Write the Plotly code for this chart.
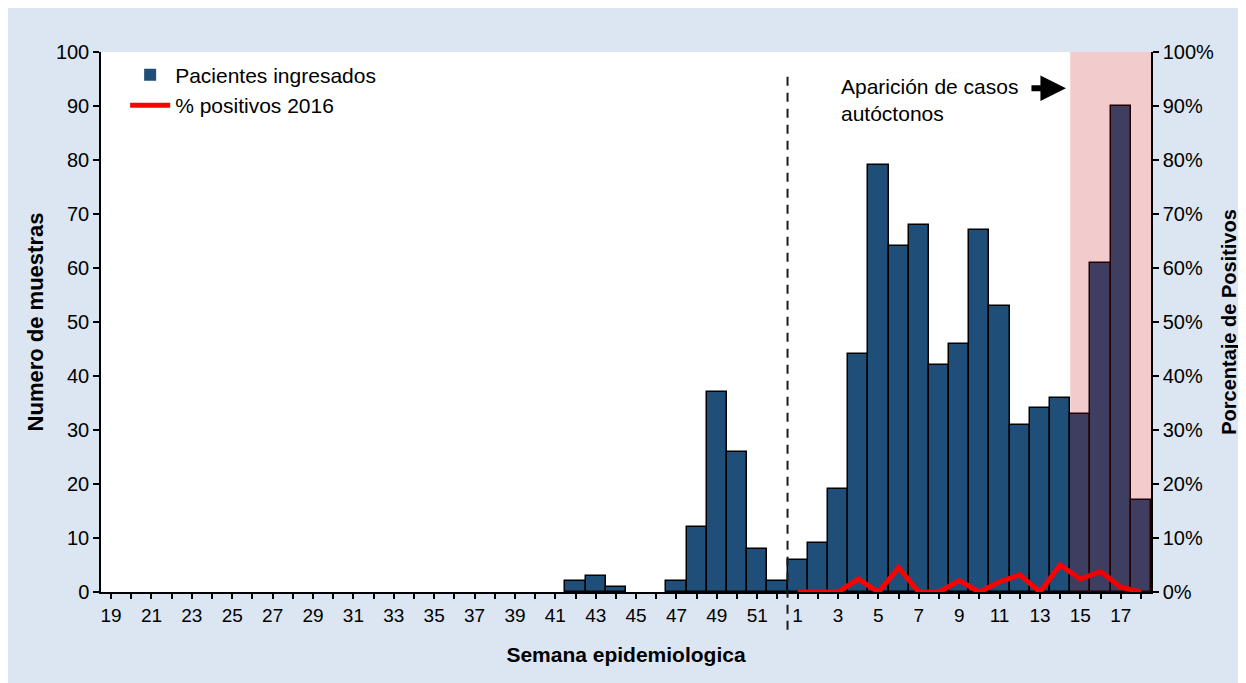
import plotly.graph_objects as go

# ---- data ----
semanas = ["19", "20", "21", "22", "23", "24", "25", "26", "27", "28", "29", "30",
           "31", "32", "33", "34", "35", "36", "37", "38", "39", "40", "41", "42",
           "43", "44", "45", "46", "47", "48", "49", "50", "51", "52",
           "1", "2", "3", "4", "5", "6", "7", "8", "9", "10", "11", "12", "13",
           "14", "15", "16", "17", "18"]
pacientes = [0, 0, 0, 0, 0, 0, 0, 0, 0, 0, 0, 0,
             0, 0, 0, 0, 0, 0, 0, 0, 0, 0, 0, 2,
             3, 1, 0, 0, 2, 12, 37, 26, 8, 2,
             6, 9, 19, 44, 79, 64, 68, 42, 46, 67, 53, 31, 34,
             36, 33, 61, 90, 17]
semanas_2016 = ["1", "2", "3", "4", "5", "6", "7", "8", "9", "10", "11", "12",
                "13", "14", "15", "16", "17", "18"]
positivos_2016 = [0.0, 0.0, 0.0, 0.024, 0.0, 0.045, 0.0, 0.0, 0.021, 0.0, 0.019,
                  0.032, 0.0, 0.050, 0.024, 0.038, 0.009, 0.0]
tick_labels = ["19", "21", "23", "25", "27", "29", "31", "33", "35", "37", "39", "41",
               "43", "45", "47", "49", "51", "1", "3", "5", "7", "9", "11", "13",
               "15", "17"]

# positions on the category axis
x_all = list(range(len(semanas)))
start_2016 = len(semanas) - len(semanas_2016)
x_2016 = [start_2016 + i for i in range(len(semanas_2016))]
ticktext = [s if s in tick_labels else "" for s in semanas]
outline_w = [1.5 if v > 0 else 0 for v in pacientes]

FONT = "Arial, Liberation Sans, sans-serif"
BG = "#dce6f2"

fig = go.Figure()
fig.add_trace(go.Bar(
    x=x_all, y=pacientes, name="Pacientes ingresados",
    marker=dict(color="#1f4e79", line=dict(color="#000000", width=outline_w)),
    width=1.0,
))
fig.add_trace(go.Scatter(
    x=x_2016, y=positivos_2016, name="% positivos 2016", yaxis="y2",
    mode="lines", line=dict(color="#ff0000", width=5),
))

# shaded region: weeks 15-18 of 2016
fig.add_shape(type="rect", xref="x", yref="paper",
              x0=semanas.index("15", start_2016) - 0.5, x1=len(semanas) - 0.5,
              y0=0, y1=1, fillcolor="rgba(192,0,0,0.2)", line=dict(width=0),
              layer="above")
# dashed separator between years
sep = (start_2016 - 0.5 + 0.5) / len(semanas)
fig.add_shape(type="line", xref="paper", yref="paper",
              x0=sep, x1=sep, y0=-0.07, y1=0.967,
              line=dict(color="#1a1a1a", width=2, dash="9px,7px"))

fig.add_annotation(xref="paper", yref="paper", x=0.703, y=0.962,
                   xanchor="left", yanchor="top", align="left",
                   text="Aparición de casos<br>autóctonos", showarrow=False,
                   font=dict(family=FONT, size=21, color="#000000"))
fig.add_annotation(xref="paper", yref="paper", x=0.919, y=0.933,
                   ax=-36, ay=0, text="", showarrow=True,
                   arrowhead=2, arrowsize=0.85, arrowwidth=6, arrowcolor="#000000")

fig.update_layout(
    width=1238, height=675,
    margin=dict(l=93, r=95, t=44, b=91),
    paper_bgcolor=BG, plot_bgcolor="#ffffff",
    font=dict(family=FONT, size=19, color="#000000"),
    bargap=0,
    showlegend=True,
    legend=dict(x=0.023, y=0.995, xanchor="left", yanchor="top",
                bgcolor="rgba(0,0,0,0)", font=dict(size=21),
                itemwidth=40, tracegroupgap=0),
    xaxis=dict(
        automargin=False,
        range=[-0.5, len(semanas) - 0.5],
        tickmode="array", tickvals=x_all, ticktext=ticktext,
        ticks="outside", ticklen=5, tickcolor="#000000", tickwidth=1.5,
        showline=True, linecolor="#000000", linewidth=1.5,
        showgrid=False, zeroline=False,
        tickfont=dict(size=19),
        title=dict(text="<b>Semana epidemiologica</b>", font=dict(size=21), standoff=23),
    ),
    yaxis=dict(
        automargin=False,
        range=[0, 100], tickmode="linear", tick0=0, dtick=10,
        ticks="outside", ticklen=6, tickcolor="#000000", tickwidth=1.5,
        showline=True, linecolor="#000000", linewidth=1.5,
        showgrid=False, zeroline=False,
        tickfont=dict(size=20),
        title=dict(text="<b>Numero de muestras</b>", font=dict(size=22), standoff=6),
    ),
    yaxis2=dict(
        automargin=False,
        range=[0, 1], overlaying="y", side="right",
        tickmode="linear", tick0=0, dtick=0.1, tickformat=".0%",
        ticks="outside", ticklen=6, tickcolor="#000000", tickwidth=1.5,
        showline=True, linecolor="#000000", linewidth=1.5,
        showgrid=False, zeroline=False,
        tickfont=dict(size=20),
        title=dict(text="<b>Porcentaje de Positivos</b>", font=dict(size=20), standoff=9),
    ),
)

fig.write_html("out.html")
